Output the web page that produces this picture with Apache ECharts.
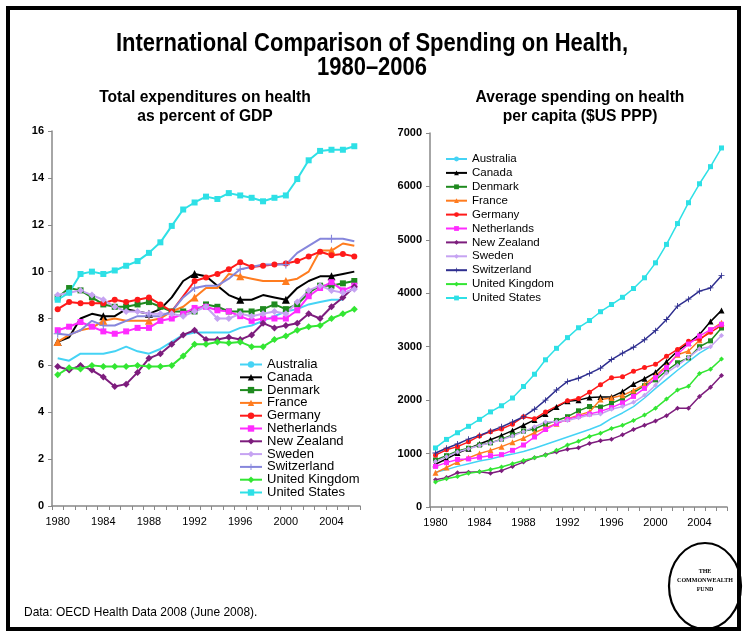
<!DOCTYPE html>
<html>
<head>
<meta charset="utf-8">
<script src="https://cdn.jsdelivr.net/npm/echarts@6/dist/echarts.min.js"></script>
<style>
  html, body { margin: 0; padding: 0; background: #fff; }
  #chart { width: 744px; height: 633px; }
</style>
</head>
<body>
<div id="chart"></div>
<script>
// years on both x axes
var years = ['1980','1981','1982','1983','1984','1985','1986','1987','1988','1989',
             '1990','1991','1992','1993','1994','1995','1996','1997','1998','1999',
             '2000','2001','2002','2003','2004','2005','2006'];

var countries = ['Australia','Canada','Denmark','France','Germany','Netherlands',
                 'New Zealand','Sweden','Switzerland','United Kingdom','United States'];

// total expenditure on health, % of GDP
var gdpAUS = [6.3,6.2,6.5,6.5,6.5,6.6,6.8,6.6,6.5,6.7,7.0,7.3,7.4,7.4,7.4,7.4,7.6,7.7,7.9,8.1,8.3,8.4,8.6,8.7,8.8,8.8,null];
var gdpCAN = [7.0,7.2,8.0,8.2,8.1,8.1,8.4,8.3,8.2,8.4,8.9,9.6,9.9,9.8,9.4,9.0,8.8,8.8,9.0,8.9,8.8,9.3,9.6,9.8,9.8,9.9,10.0];
var gdpDNK = [8.9,9.3,9.2,8.9,8.6,8.5,8.5,8.6,8.7,8.5,8.3,8.3,8.3,8.6,8.5,8.3,8.3,8.3,8.4,8.6,8.4,8.6,9.1,9.4,9.4,9.5,9.6];
var gdpFRA = [7.0,7.3,7.5,7.6,7.9,8.0,7.9,7.9,7.9,8.0,8.3,8.5,8.9,9.3,9.3,9.9,9.8,9.7,9.6,9.6,9.6,9.7,10.0,10.9,10.9,11.2,11.1];
var gdpDEU = [8.4,8.7,8.65,8.65,8.65,8.8,8.7,8.8,8.9,8.6,8.3,null,9.6,9.75,9.9,10.1,10.4,10.2,10.25,10.3,10.35,10.45,10.65,10.85,10.7,10.75,10.65];
var gdpNLD = [7.5,7.65,7.85,7.65,7.45,7.35,7.45,7.6,7.6,7.9,8.0,8.2,8.45,8.5,8.35,8.3,8.1,7.9,8.0,8.0,8.0,8.35,8.95,9.3,9.55,9.2,9.4];
var gdpNZL = [5.95,5.8,6.0,5.8,5.5,5.1,5.2,5.7,6.3,6.5,6.9,7.3,7.5,7.1,7.1,7.2,7.1,7.3,7.8,7.6,7.7,7.8,8.2,8.0,8.5,8.9,9.35];
var gdpSWE = [9.0,9.1,9.2,9.0,8.8,8.5,8.3,8.3,8.2,8.2,8.2,8.1,8.3,8.5,8.0,8.0,8.2,8.1,8.2,8.3,8.2,8.7,9.2,9.4,9.2,9.1,9.25];
var gdpCHE = [7.35,7.3,7.5,7.9,7.7,7.7,7.9,8.1,8.1,8.1,8.3,8.9,9.3,9.4,9.4,9.7,10.1,10.2,10.3,10.3,10.3,10.8,11.1,11.4,11.4,11.4,11.3];
var gdpGBR = [5.6,5.9,5.85,6.0,5.95,5.95,5.95,6.0,5.95,5.95,6.0,6.4,6.9,6.9,7.0,6.95,7.0,6.8,6.8,7.1,7.25,7.5,7.65,7.7,8.0,8.2,8.4];
var gdpUSA = [8.8,9.1,9.9,10.0,9.9,10.05,10.25,10.45,10.8,11.25,11.95,12.65,12.95,13.2,13.1,13.35,13.25,13.15,13.0,13.15,13.25,13.95,14.75,15.15,15.2,15.2,15.35];

// spending per capita, $US PPP (right panel)
var pcAUS = [650,700,760,810,860,900,950,990,1040,1100,1170,1240,1310,1380,1450,1530,1660,1760,1880,2040,2220,2390,2560,2720,2880,3000,null];
var pcCAN = [800,900,1010,1090,1180,1260,1340,1430,1530,1630,1740,1870,1980,2000,2050,2060,2060,2160,2300,2400,2520,2720,2920,3070,3230,3470,3680];
var pcDNK = [880,960,1050,1100,1160,1200,1270,1350,1420,1460,1550,1620,1690,1800,1880,1870,1940,2030,2140,2270,2380,2550,2700,2790,3000,3110,3350];
var pcFRA = [640,740,840,920,1000,1060,1130,1210,1290,1390,1480,1560,1650,1720,1780,2010,2040,2090,2180,2290,2460,2640,2850,2920,3120,3310,3450];
var pcDEU = [970,1070,1130,1220,1330,1410,1460,1550,1690,1650,1780,null,1990,2030,2150,2290,2420,2440,2540,2610,2670,2820,2950,3100,3140,3270,3400];
var pcNLD = [760,830,890,900,930,960,980,1060,1160,1310,1450,1560,1640,1700,1740,1790,1860,1950,2070,2220,2420,2610,2860,3050,3200,3320,3420];
var pcNZL = [510,550,640,650,660,630,680,760,840,920,980,1030,1080,1110,1190,1240,1270,1350,1450,1530,1610,1710,1850,1850,2070,2240,2460];
var pcSWE = [850,940,1030,1090,1150,1200,1260,1330,1410,1500,1590,1600,1620,1670,1720,1740,1830,1880,1960,2090,2280,2510,2650,2800,2960,3000,3210];
var pcCHE = [1010,1100,1180,1270,1340,1420,1500,1590,1690,1830,2000,2190,2350,2410,2500,2600,2760,2880,2990,3130,3300,3510,3760,3890,4040,4100,4330];
var pcGBR = [470,530,570,630,660,700,750,810,870,920,970,1060,1160,1230,1320,1380,1470,1530,1620,1720,1850,2020,2190,2260,2500,2580,2770];
var pcUSA = [1105,1265,1390,1510,1640,1780,1895,2040,2255,2485,2755,2970,3170,3355,3490,3655,3790,3925,4090,4290,4570,4915,5305,5695,6050,6370,6720];

var FONT = "'Liberation Sans', Arial, sans-serif";
var PLUS = 'path://M0,4.3H10V5.7H0Z M4.3,0H5.7V10H4.3Z';

// colour / symbol per country (c = left panel, c2 = right panel)
var looks = {
  'Australia':      { c: '#45d3f5', c2: '#45d3f5', s: 'none' },
  'Canada':         { c: '#000000', c2: '#000000', s: 'triangle' },
  'Denmark':        { c: '#1f8a1f', c2: '#1f8a1f', s: 'rect' },
  'France':         { c: '#ff7c1f', c2: '#ff7c1f', s: 'triangle' },
  'Germany':        { c: '#ff1a1a', c2: '#ff1a1a', s: 'circle' },
  'Netherlands':    { c: '#ff2bff', c2: '#ff2bff', s: 'rect' },
  'New Zealand':    { c: '#7d1d7d', c2: '#7d1d7d', s: 'diamond' },
  'Sweden':         { c: '#c6a3f2', c2: '#c6a3f2', s: 'diamond' },
  'Switzerland':    { c: '#8686dc', c2: '#2e2e8f', s: PLUS },
  'United Kingdom': { c: '#33e633', c2: '#33e633', s: 'diamond' },
  'United States':  { c: '#2ee0e6', c2: '#2ee0e6', s: 'rect' }
};

var leftData = [gdpAUS, gdpCAN, gdpDNK, gdpFRA, gdpDEU, gdpNLD, gdpNZL, gdpSWE, gdpCHE, gdpGBR, gdpUSA];
var rightData = [pcAUS, pcCAN, pcDNK, pcFRA, pcDEU, pcNLD, pcNZL, pcSWE, pcCHE, pcGBR, pcUSA];

var series = [];
countries.forEach(function (name, i) {
  var lk = looks[name];
  var big = (lk.s === 'triangle' || lk.s === PLUS) ? 8 : (lk.s === 'diamond' ? 7 : 6);
  series.push({
    name: name, type: 'line', xAxisIndex: 0, yAxisIndex: 0,
    data: leftData[i], symbol: lk.s, symbolSize: big, connectNulls: true,
    lineStyle: { color: lk.c, width: 2 }, itemStyle: { color: lk.c }
  });
});
countries.forEach(function (name, i) {
  var lk = looks[name];
  var sz = (lk.s === 'triangle' || lk.s === PLUS) ? 6 : 5;
  series.push({
    name: name, type: 'line', xAxisIndex: 1, yAxisIndex: 1,
    data: rightData[i], symbol: lk.s, symbolSize: sz, connectNulls: true,
    lineStyle: { color: lk.c2, width: 1.5 }, itemStyle: { color: lk.c2 }
  });
});

function legendItems(key) {
  return countries.map(function (name) {
    var col = looks[name][key];
    return { name: name, itemStyle: { color: col }, lineStyle: { color: col } };
  });
}

function xAx(grid) {
  return {
    type: 'category', gridIndex: grid, data: years, boundaryGap: true,
    axisLine: { lineStyle: { color: '#888', width: 1.5 } },
    axisTick: { show: true, interval: 0, length: 4, lineStyle: { color: '#888' } },
    axisLabel: { interval: 3, color: '#000', fontSize: 11, fontFamily: FONT, margin: 10 },
    splitLine: { show: false }
  };
}
function yAx(grid, max, step) {
  return {
    type: 'value', gridIndex: grid, min: 0, max: max, interval: step,
    axisLine: { show: true, lineStyle: { color: '#888', width: 1.5 } },
    axisTick: { show: true, length: 4, lineStyle: { color: '#888' } },
    axisLabel: { color: '#000', fontSize: 11, fontWeight: 'bold', fontFamily: FONT, margin: 8,
                 formatter: function (v) { return String(v); } },
    splitLine: { show: false }
  };
}

var chart = echarts.init(document.getElementById('chart'));

var option = {
  backgroundColor: '#fff',
  animation: false,
  textStyle: { fontFamily: FONT },
  legend: [
    { orient: 'vertical', left: 234, top: 353, itemWidth: 22, itemHeight: 8, itemGap: -0.2,
      data: legendItems('c'), selectedMode: false,
      textStyle: { fontSize: 13, lineHeight: 12, color: '#000', fontFamily: FONT } },
    { orient: 'vertical', left: 440, top: 148, itemWidth: 21, itemHeight: 6, itemGap: 1.9,
      data: legendItems('c2'), selectedMode: false,
      textStyle: { fontSize: 11.5, lineHeight: 12, color: '#000', fontFamily: FONT } }
  ],
  grid: [
    { left: 52, top: 131, width: 308, height: 375 },
    { left: 430, top: 133, width: 297, height: 374 }
  ],
  xAxis: [xAx(0), xAx(1)],
  yAxis: [yAx(0, 16, 2), yAx(1, 7000, 1000)],
  series: series,
  graphic: [
    // titles drawn as text squeezed horizontally to mimic the narrow bold face
    { type: 'text', x: 372, y: 32, scaleX: 0.88, style: { text: 'International Comparison of Spending on Health,', align: 'center', fontSize: 25, fontWeight: 'bold', fontFamily: FONT, fill: '#000' } },
    { type: 'text', x: 372, y: 56, scaleX: 0.88, style: { text: '1980\u20132006', align: 'center', fontSize: 25, fontWeight: 'bold', fontFamily: FONT, fill: '#000' } },
    { type: 'text', x: 205, y: 88, scaleX: 0.92, style: { text: 'Total expenditures on health\nas percent of GDP', align: 'center', fontSize: 17, lineHeight: 19, fontWeight: 'bold', fontFamily: FONT, fill: '#000' } },
    { type: 'text', x: 580, y: 88, scaleX: 0.92, style: { text: 'Average spending on health\nper capita ($US PPP)', align: 'center', fontSize: 17, lineHeight: 19, fontWeight: 'bold', fontFamily: FONT, fill: '#000' } },
    { type: 'text', x: 24, y: 606, scaleX: 0.92, style: { text: 'Data: OECD Health Data 2008 (June 2008).', fontSize: 13, fontFamily: FONT, fill: '#000' } },
    { type: 'ellipse', shape: { cx: 705, cy: 586, rx: 36, ry: 43 }, style: { fill: '#fff', stroke: '#000', lineWidth: 2.2 } },
    { type: 'text', x: 705, y: 567, style: { text: 'THE\nCOMMONWEALTH\nFUND', align: 'center', fontSize: 6, lineHeight: 9, fontWeight: 'bold', fontFamily: 'Liberation Serif, serif', fill: '#000' } },
    { type: 'rect', shape: { x: 8, y: 8, width: 731, height: 621 }, style: { fill: null, stroke: '#000', lineWidth: 4 }, silent: true }
  ]
};

chart.setOption(option);
</script>
</body>
</html>
